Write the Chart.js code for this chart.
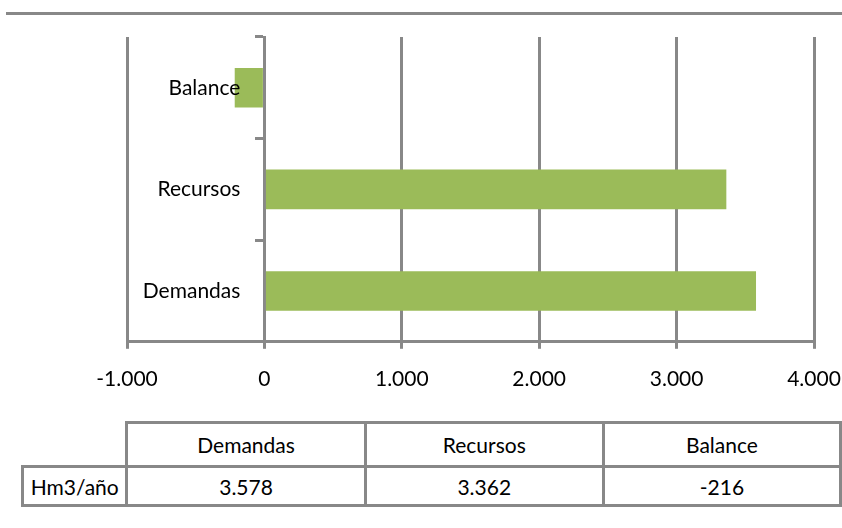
<!DOCTYPE html>
<html>
<head>
<meta charset="utf-8">
<script src="https://cdn.jsdelivr.net/npm/chart.js@4.4.1/dist/chart.umd.min.js"></script>
<style>
  body { margin: 0; background: #fff; font-family: Lato, sans-serif; }
  #wrap { position: relative; width: 842px; height: 528px; overflow: hidden; }
  #topline { position: absolute; left: 6px; top: 12px; width: 836px; height: 3px; background: #888; }
  #box { position: absolute; left: 0; top: 0; width: 842px; height: 410px; }
  #tabla { position: absolute; left: 21px; top: 421px; border-collapse: collapse; font-size: 21px; color: #000; }
  #tabla td { border: 3px solid #888; text-align: center; padding: 0; }
  #tabla td.vacio { border: none; }
</style>
</head>
<body>
<div id="wrap">
  <div id="topline"></div>
  <div id="box"><canvas id="grafico"></canvas></div>
  <table id="tabla"></table>
</div>
<script>
var categorias = ["Demandas", "Recursos", "Balance"];
var valores = [3578, 3362, -216];
var unidad = "Hm3/año";
var ejeMin = -1000;
var ejeMax = 4000;
var paso = 1000;

function formato(v) {
  var s = Math.abs(v).toString().replace(/\B(?=(\d{3})+(?!\d))/g, ".");
  return (v < 0 ? "-" : "") + s;
}

// tabla de datos bajo el grafico
var tabla = document.getElementById("tabla");
var fila1 = "<tr style='height:44px'><td class='vacio' style='width:103px'></td>";
var fila2 = "<tr style='height:39px'><td>" + unidad + "</td>";
var anchos = [236, 236, 235];
for (var i = 0; i < categorias.length; i++) {
  fila1 += "<td style='width:" + anchos[i] + "px'>" + categorias[i] + "</td>";
  fila2 += "<td>" + formato(valores[i]) + "</td>";
}
tabla.innerHTML = fila1 + "</tr>" + fila2 + "</tr>";

// nombres de categoria a la izquierda del eje 0, por encima de las barras
var etiquetasY = {
  id: "etiquetasY",
  afterDatasetsDraw: function (chart) {
    var ctx = chart.ctx;
    var x = chart.scales.x.getPixelForValue(0) - 24;
    var y = chart.scales.y;
    ctx.save();
    ctx.font = "21px Lato, sans-serif";
    ctx.fillStyle = "#000";
    ctx.textAlign = "right";
    ctx.textBaseline = "middle";
    for (var i = 0; i < categorias.length; i++) {
      ctx.fillText(categorias[i], x, y.getPixelForValue(i));
    }
    ctx.restore();
  }
};

Chart.defaults.font.family = "Lato, sans-serif";
Chart.defaults.font.size = 21;
Chart.defaults.color = "#000";

new Chart(document.getElementById("grafico"), {
  type: "bar",
  data: {
    labels: categorias,
    datasets: [{
      data: valores,
      backgroundColor: "#9bbb59",
      barPercentage: 0.39,
      categoryPercentage: 1
    }]
  },
  options: {
    indexAxis: "y",
    responsive: true,
    maintainAspectRatio: false,
    animation: false,
    layout: { padding: { left: 127, right: 28, top: 37, bottom: 0 } },
    plugins: { legend: { display: false }, tooltip: { enabled: false } },
    scales: {
      x: {
        min: ejeMin,
        max: ejeMax,
        ticks: { stepSize: paso, padding: 18, callback: function (v) { return formato(v); } },
        grid: { color: "#888", lineWidth: 3, tickLength: 7 },
        border: { color: "#888", width: 3 },
        afterFit: function (scale) {
          // el ultimo rotulo puede salirse un poco por la derecha
          scale.paddingLeft = 0;
          scale.paddingRight = 0;
        }
      },
      y: {
        position: { x: 0 },
        reverse: true,
        ticks: { display: false },
        grid: { drawOnChartArea: false, color: "#888", lineWidth: 3, tickLength: 8, offset: true },
        border: { color: "#888", width: 3 }
      }
    }
  },
  plugins: [etiquetasY]
});
</script>
</body>
</html>
